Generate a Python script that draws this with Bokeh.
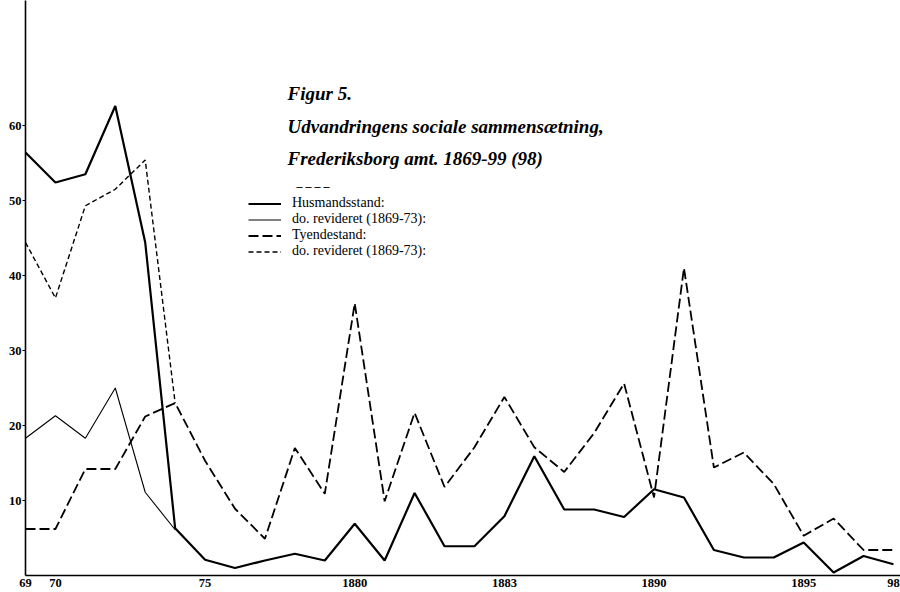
from bokeh.plotting import figure
from bokeh.models import Range1d, FixedTicker, Label, Legend, LegendItem
from bokeh.embed import file_html
from bokeh.resources import INLINE

# ---- data ----
years = list(range(1869, 1899))
husmand = [56.4, 52.4, 53.5, 62.6, 44.4, 6.3, 2.1, 1.0, 2.0, 2.9,
           2.0, 6.9, 2.0, 11.0, 3.9, 3.9, 7.9, 15.9, 8.8, 8.8,
           7.8, 11.5, 10.4, 3.4, 2.4, 2.4, 4.4, 0.4, 2.6, 1.5]
rev_years = [1869, 1870, 1871, 1872, 1873, 1874]
husmand_rev = [18.3, 21.3, 18.3, 25.0, 11.1, 6.1]
tyende = [6.2, 6.2, 14.2, 14.2, 21.2, 23.0, 15.3, 8.9, 4.9, 17.0,
          10.9, 36.3, 9.9, 21.7, 11.8, 17.1, 23.8, 17.1, 13.8, 19.0,
          25.6, 10.4, 41.0, 14.4, 16.4, 12.2, 5.3, 7.6, 3.4, 3.4]
tyende_rev = [44.4, 37.0, 49.3, 51.5, 55.4, 23.0]

x_ticks = [1869, 1870, 1875, 1880, 1885, 1890, 1895, 1898]
x_tick_labels = ["69", "70", "75", "1880", "1883", "1890", "1895", "98"]
y_ticks = [10, 20, 30, 40, 50, 60]

title_lines = ["Figur 5.",
               "Udvandringens sociale sammensætning,",
               "Frederiksborg amt. 1869-99 (98)"]
legend_labels = ["Husmandsstand:", "do. revideret (1869-73):",
                 "Tyendestand:", "do. revideret (1869-73):"]

SERIF = "Liberation Serif"

# ---- geometry helpers (page pixel -> data) ----
FRAME_L, FRAME_R, FRAME_T, FRAME_B = 25, 900, 0, 575
X0 = 1869
XS = 29.93                      # px per year
X1 = X0 + (FRAME_R - FRAME_L) / XS
Y0 = 0
YS = 7.5                        # px per unit
Y1 = Y0 + (FRAME_B - FRAME_T) / YS


def dx(px):
    return X0 + (px - FRAME_L) / XS


def dy(py):
    return Y0 + (FRAME_B - py) / YS


p = figure(width=900, height=592, output_backend="svg", toolbar_location=None,
           x_range=Range1d(X0, X1), y_range=Range1d(Y0, Y1),
           min_border_left=FRAME_L, min_border_right=0, min_border_top=0,
           min_border_bottom=17)
p.outline_line_color = None
p.grid.visible = False
p.background_fill_color = "white"
p.border_fill_color = "white"

# axes
ya = p.yaxis[0]
ya.ticker = FixedTicker(ticks=y_ticks)
ya.axis_line_width = 1.6
ya.axis_line_color = "black"
ya.major_tick_out = 3
ya.major_tick_in = 0
ya.major_tick_line_color = "black"
ya.minor_tick_line_color = None
ya.major_label_standoff = 1
ya.major_label_text_font = SERIF
ya.major_label_text_font_size = "12.5px"
ya.major_label_text_font_style = "bold"
ya.major_label_text_color = "black"

xa = p.xaxis[0]
xa.ticker = FixedTicker(ticks=x_ticks)
xa.major_label_overrides = {t: l for t, l in zip(x_ticks, x_tick_labels)}
xa.axis_line_width = 1.6
xa.axis_line_color = "black"
xa.major_tick_out = 0
xa.major_tick_in = 0
xa.minor_tick_line_color = None
xa.major_label_standoff = 3
xa.major_label_text_font = SERIF
xa.major_label_text_font_size = "12.5px"
xa.major_label_text_font_style = "bold"
xa.major_label_text_color = "black"

# series
r1 = p.line(years, husmand, line_color="black", line_width=2.2)
r2 = p.line(rev_years, husmand_rev, line_color="black", line_width=1.1)
r3 = p.line(years, tyende, line_color="black", line_width=1.8, line_dash="10 4")
r4 = p.line(rev_years, tyende_rev, line_color="black", line_width=1.4, line_dash="5 3")

legend = Legend(items=[LegendItem(label=legend_labels[0], renderers=[r1]),
                       LegendItem(label=legend_labels[1], renderers=[r2]),
                       LegendItem(label=legend_labels[2], renderers=[r3]),
                       LegendItem(label=legend_labels[3], renderers=[r4])],
                location=(248 - FRAME_L, FRAME_B - 259),
                orientation="vertical", padding=0, spacing=0, margin=0,
                glyph_width=33, glyph_height=15, label_height=15,
                label_standoff=11, label_text_font=SERIF,
                label_text_font_size="14px", label_text_color="black",
                border_line_color=None, background_fill_alpha=0)
p.add_layout(legend)

# title
for txt, py in zip(title_lines, [93, 126, 158]):
    p.add_layout(Label(x=dx(287), y=dy(py), text=txt, text_font=SERIF,
                       text_font_size="19px", text_font_style="bold italic",
                       text_baseline="middle", text_align="left",
                       text_color="black"))

p.add_layout(Label(x=dx(296), y=dy(185), text="– – – –", text_font=SERIF,
                   text_font_size="12px", text_font_style="bold",
                   text_baseline="middle", text_align="left",
                   text_color="black"))

open("out.html", "w").write(file_html(p, INLINE))
